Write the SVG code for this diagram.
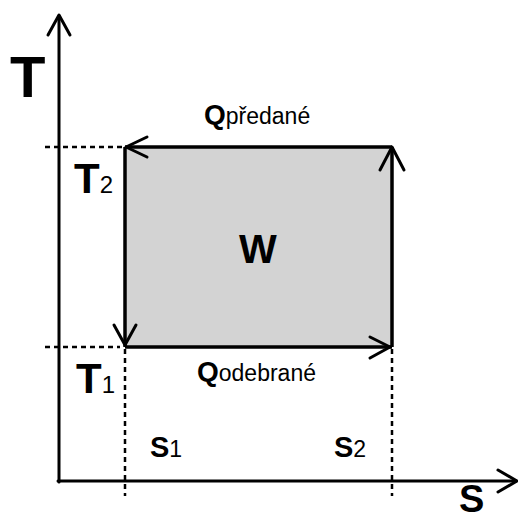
<svg xmlns="http://www.w3.org/2000/svg" width="518" height="522" viewBox="0 0 518 522">
<style>
.ax{stroke:#000;stroke-width:3;fill:none;stroke-linecap:round}
.edge{stroke:#000;stroke-width:3.5;fill:none}
.head{stroke:#000;stroke-width:3;fill:none;stroke-linecap:round;stroke-linejoin:round}
.dash{stroke:#000;stroke-width:2.5;fill:none;stroke-dasharray:5 4}
.big{font-family:"Liberation Sans",Arial,sans-serif;font-weight:bold;fill:#000}
.sub{font-family:"Liberation Sans",Arial,sans-serif;fill:#000}
</style>
<rect width="518" height="522" fill="#fff"/>
<g id="connectors">
<line class="dash" x1="45" y1="147" x2="123" y2="147"/>
<line class="dash" x1="45" y1="347" x2="120" y2="347"/>
<line class="dash" x1="125" y1="349" x2="125" y2="496"/>
<line class="dash" x1="392" y1="349" x2="392" y2="496"/>
<line class="ax" x1="59" y1="16" x2="59" y2="482"/>
<polyline class="head" points="48,35 59,15 70,35"/>
<line class="ax" x1="58" y1="481" x2="516" y2="481"/>
<polyline class="head" points="498,470 517,481 498,492"/>
</g>
<g id="cycle">
<rect x="125" y="147" width="267" height="200" fill="#d3d3d3"/>
<line class="edge" x1="125" y1="147" x2="392" y2="147"/>
<polyline class="head" points="147,137 126,147 147,157"/>
<line class="edge" x1="392" y1="147" x2="392" y2="347"/>
<polyline class="head" points="380,170 392,147 404,170"/>
<line class="edge" x1="125" y1="147" x2="125" y2="347"/>
<polyline class="head" points="114,325 125,345 136,325"/>
<line class="edge" x1="125" y1="347" x2="392" y2="347"/>
<polyline class="head" points="370,337 390,347 370,358"/>
</g>
<g id="labels">
<text class="big" x="10" y="97" font-size="58">T</text>
<text class="big" x="74" y="193" font-size="42">T<tspan class="sub" font-weight="normal" font-size="24">2</tspan></text>
<text class="big" x="76" y="393" font-size="42">T<tspan class="sub" font-weight="normal" font-size="24">1</tspan></text>
<text class="big" x="204" y="124" font-size="28">Q<tspan class="sub" font-weight="normal" font-size="23">předané</tspan></text>
<text class="big" x="197" y="381" font-size="28">Q<tspan class="sub" font-weight="normal" font-size="23">odebrané</tspan></text>
<text class="big" x="258" y="263" font-size="40" text-anchor="middle">W</text>
<text class="big" x="150" y="457" font-size="29">S<tspan class="sub" font-weight="normal" font-size="23">1</tspan></text>
<text class="big" x="334" y="457" font-size="29">S<tspan class="sub" font-weight="normal" font-size="23">2</tspan></text>
<text class="big" x="459" y="512" font-size="38">S</text>
</g>
</svg>
